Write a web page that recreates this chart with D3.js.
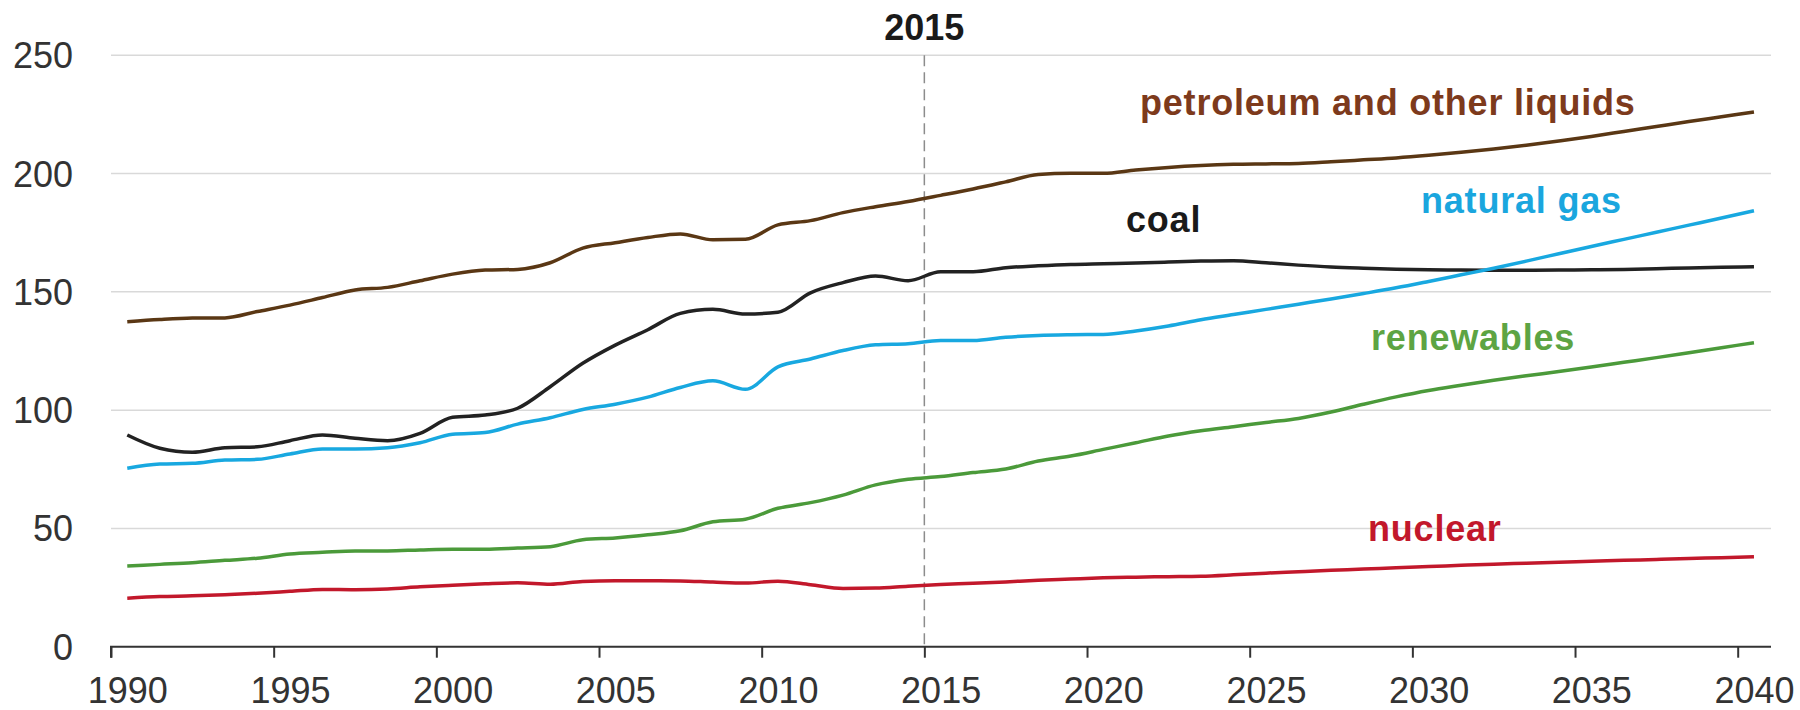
<!DOCTYPE html>
<html>
<head>
<meta charset="utf-8">
<script src="https://cdn.jsdelivr.net/npm/d3@7"></script>
<style>
  body { margin: 0; background: #fff; }
  svg { display: block; }
  text { font-family: "Liberation Sans", Arial, sans-serif; }
</style>
</head>
<body>
<div id="chart"></div>
<script>
(function () {

// years of the series, 1990 to 2040
const years = d3.range(1990, 2041);

// values
const petroleum = [137.4, 138.3, 138.9, 139.0, 141.7, 144.4, 147.6, 150.8, 151.9, 154.7,
  157.5, 159.2, 159.5, 162.3, 168.5, 170.8, 173.0, 174.5, 172.0, 172.2,
  178.3, 180.1, 183.5, 186.0, 188.2, 190.8, 193.5, 196.5, 199.6, 200.1,
  200.1, 201.5, 202.6, 203.4, 203.9, 204.1, 204.3, 205.0, 205.8, 206.6,
  207.7, 209.0, 210.4, 212.0, 213.8, 215.7, 217.8, 219.9, 222.0, 224.0, 226.0];

const coal = [89.5, 83.9, 82.2, 84.1, 84.5, 87.1, 89.5, 88.1, 87.1, 90.2,
  97.0, 97.9, 100.8, 109.9, 119.8, 127.5, 134.0, 140.9, 142.6, 140.6,
  141.4, 149.6, 153.9, 156.7, 154.7, 158.5, 158.5, 160.2, 161.0, 161.6,
  161.9, 162.2, 162.6, 163.0, 163.2, 162.3, 161.3, 160.5, 160.0, 159.6,
  159.3, 159.2, 159.1, 159.1, 159.2, 159.3, 159.5, 159.8, 160.1, 160.4, 160.6];

const naturalGas = [75.4, 77.2, 77.5, 78.9, 79.2, 81.5, 83.6, 83.6, 84.1, 86.2,
  89.8, 90.5, 94.1, 96.8, 100.3, 102.5, 105.5, 109.6, 112.4, 108.8,
  118.3, 121.6, 125.2, 127.6, 128.1, 129.4, 129.4, 130.8, 131.6, 131.9,
  132.0, 133.5, 135.6, 138.2, 140.4, 142.6, 144.8, 147.0, 149.3, 151.7,
  154.4, 157.2, 160.0, 163.0, 166.1, 169.2, 172.2, 175.2, 178.2, 181.2, 184.3];

const renewables = [34.1, 34.8, 35.5, 36.5, 37.4, 39.2, 39.9, 40.5, 40.5, 40.9,
  41.2, 41.2, 41.7, 42.3, 45.2, 46.0, 47.3, 49.0, 52.8, 53.9,
  58.5, 60.9, 64.1, 68.4, 70.8, 71.9, 73.6, 75.1, 78.5, 80.6,
  83.4, 86.2, 89.1, 91.3, 93.0, 94.8, 96.5, 99.2, 102.5, 105.6,
  108.3, 110.5, 112.6, 114.5, 116.3, 118.2, 120.2, 122.2, 124.3, 126.4, 128.5];

const nuclear = [20.5, 21.2, 21.5, 22.0, 22.6, 23.4, 24.2, 24.1, 24.4, 25.3,
  26.0, 26.6, 27.0, 26.4, 27.6, 27.9, 27.9, 27.8, 27.3, 26.9,
  27.7, 26.2, 24.6, 24.8, 25.6, 26.3, 26.8, 27.4, 28.1, 28.6,
  29.1, 29.4, 29.6, 29.8, 30.4, 31.1, 31.7, 32.3, 32.8, 33.4,
  33.9, 34.4, 34.9, 35.3, 35.7, 36.1, 36.5, 36.9, 37.3, 37.6, 38.0];

const yTicks = [0, 50, 100, 150, 200, 250];
const xTicks = d3.range(1990, 2041, 5);
const markerYear = 2015;

const series = [
  {name: "petroleum and other liquids", values: petroleum, line: "#5a3714", label: "#7d3a1c", lx: 1140, ly: 115},
  {name: "coal", values: coal, line: "#222222", label: "#1a1a1a", lx: 1126, ly: 232},
  {name: "natural gas", values: naturalGas, line: "#18a8e0", label: "#1aa6de", lx: 1421, ly: 213},
  {name: "renewables", values: renewables, line: "#4b9a3a", label: "#5da443", lx: 1371, ly: 350},
  {name: "nuclear", values: nuclear, line: "#c2182b", label: "#c2182b", lx: 1368, ly: 541}
];

const width = 1800, height = 710;

const svg = d3.select("#chart").append("svg")
    .attr("width", width)
    .attr("height", height);

const x = d3.scaleLinear().domain([1990, 2040]).range([111, 1737.7]);
const y = d3.scaleLinear().domain([0, 250]).range([646.7, 55.3]);
const xEnd = 1771;

// grid lines
svg.append("g")
  .selectAll("line")
  .data(yTicks.filter(d => d > 0))
  .join("line")
  .attr("x1", x(1990))
  .attr("x2", xEnd)
  .attr("y1", d => y(d))
  .attr("y2", d => y(d))
  .attr("stroke", "#d9d9d9")
  .attr("stroke-width", 1.5);

// y labels
svg.append("g")
  .selectAll("text")
  .data(yTicks)
  .join("text")
  .attr("x", 73)
  .attr("y", d => y(d))
  .attr("dy", "0.36em")
  .attr("text-anchor", "end")
  .attr("font-size", 36)
  .attr("fill", "#333")
  .text(d => d);

// 2015 divider
svg.append("line")
  .attr("x1", x(markerYear)).attr("x2", x(markerYear))
  .attr("y1", y(250)).attr("y2", y(0))
  .attr("stroke", "#8c8c8c")
  .attr("stroke-width", 1.5)
  .attr("stroke-dasharray", "11,6");

svg.append("text")
  .attr("x", x(markerYear))
  .attr("y", 40)
  .attr("text-anchor", "middle")
  .attr("font-size", 36)
  .attr("font-weight", "bold")
  .attr("fill", "#1a1a1a")
  .text(markerYear);

// x axis
const xAxis = d3.axisBottom(x)
  .tickValues(xTicks)
  .tickSize(11)
  .tickPadding(20)
  .tickFormat(d3.format("d"));

const gx = svg.append("g")
  .attr("transform", "translate(0," + y(0) + ")")
  .call(xAxis);

gx.select(".domain")
  .attr("d", "M" + x(1990) + ",11V0H" + xEnd)
  .attr("stroke", "#333")
  .attr("stroke-width", 2);
gx.selectAll(".tick line").attr("stroke", "#333").attr("stroke-width", 2);
gx.selectAll(".tick text")
  .attr("dx", x(1990.5) - x(1990))
  .attr("font-size", 36)
  .attr("font-family", "'Liberation Sans', Arial, sans-serif")
  .attr("fill", "#333");

// series lines (values are annual, plotted mid-year)
const line = d3.line()
  .x((d, i) => x(years[i] + 0.5))
  .y(d => y(d))
  .curve(d3.curveMonotoneX);

svg.append("g")
  .selectAll("path")
  .data(series)
  .join("path")
  .attr("d", d => line(d.values))
  .attr("fill", "none")
  .attr("stroke", d => d.line)
  .attr("stroke-width", 3.5)
  .attr("stroke-linejoin", "round");

// series labels
svg.append("g")
  .selectAll("text")
  .data(series)
  .join("text")
  .attr("x", d => d.lx)
  .attr("y", d => d.ly)
  .attr("font-size", 36)
  .attr("letter-spacing", 0.8)
  .attr("font-weight", "bold")
  .attr("fill", d => d.label)
  .text(d => d.name);

})()
</script>
</body>
</html>
